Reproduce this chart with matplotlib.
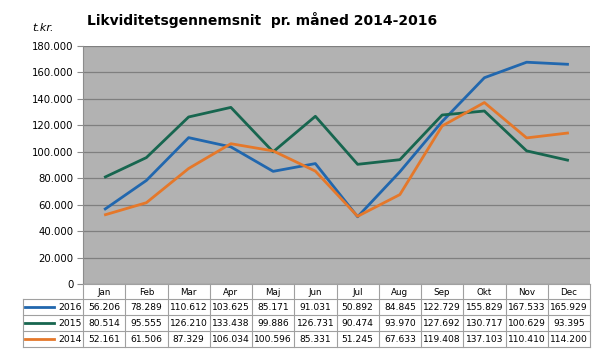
import matplotlib.pyplot as plt
from matplotlib.lines import Line2D
import numpy as np

# data (t.kr.)
months = ['Jan', 'Feb', 'Mar', 'Apr', 'Maj', 'Jun', 'Jul', 'Aug', 'Sep', 'Okt', 'Nov', 'Dec']
years = ['2016', '2015', '2014']
v2016 = [56.206, 78.289, 110.612, 103.625, 85.171, 91.031, 50.892, 84.845, 122.729, 155.829, 167.533, 165.929]
v2015 = [80.514, 95.555, 126.210, 133.438, 99.886, 126.731, 90.474, 93.970, 127.692, 130.717, 100.629, 93.395]
v2014 = [52.161, 61.506, 87.329, 106.034, 100.596, 85.331, 51.245, 67.633, 119.408, 137.103, 110.410, 114.200]
series = [v2016, v2015, v2014]
colors = ['#2167AE', '#17664F', '#E5782A']

W, H = 605, 354
fig = plt.figure(figsize=(W / 100, H / 100), dpi=100)

# plot area in pixels
left, right, top, bottom = 83, 590, 45.7, 284.2
ax = fig.add_axes([left / W, 1 - bottom / H, (right - left) / W, (bottom - top) / H])
ax.set_facecolor('#B2B2B2')
x = np.arange(len(months)) + 0.5
for vals, c in zip(series, colors):
    ax.plot(x, vals, color=c, linewidth=2.0, solid_capstyle='butt')
ax.set_xlim(0, len(months))
ax.set_ylim(0, 180)
ax.set_yticks(np.arange(0, 181, 20))
ax.set_yticklabels(['0' if t == 0 else f'{t}.000' for t in range(0, 181, 20)], fontsize=7.3)
ax.yaxis.grid(True, color='#7F7F7F', linewidth=0.9)
ax.set_axisbelow(True)
ax.set_xticks([])
for s in ['top', 'right', 'bottom']:
    ax.spines[s].set_visible(False)
ax.spines['left'].set_color('#8C8C8C')
ax.tick_params(axis='y', length=4, color='#8C8C8C', pad=3)

fig.text(262 / W, 1 - 20 / H, 'Likviditetsgennemsnit  pr. måned 2014-2016',
         ha='center', va='center', fontsize=10, fontweight='bold')
fig.text(43 / W, 1 - 28 / H, 't.kr.', ha='center', va='center', fontsize=8, style='italic')

# data table below the chart
tab = fig.add_axes([0, 0, 1, 1], facecolor='none')
tab.set_xlim(0, W)
tab.set_ylim(H, 0)
tab.axis('off')
lc = '#A0A0A0'
tleft = 23
colw = (right - left) / len(months)
rows_y = [284.2, 299, 315, 331, 347]
# horizontal lines
tab.plot([left, right], [rows_y[0], rows_y[0]], color=lc, lw=0.8)
for yy in rows_y[1:]:
    tab.plot([tleft, right], [yy, yy], color=lc, lw=0.8)
# vertical lines
tab.plot([tleft, tleft], [rows_y[1], rows_y[-1]], color=lc, lw=0.8)
for i in range(len(months) + 1):
    xx = left + i * colw
    tab.plot([xx, xx], [rows_y[0], rows_y[-1]], color=lc, lw=0.8)
# header
for i, m in enumerate(months):
    tab.text(left + (i + 0.5) * colw, (rows_y[0] + rows_y[1]) / 2 + 0.5, m,
             ha='center', va='center', fontsize=6.3)
# rows
for r, (yr, vals, c) in enumerate(zip(years, series, colors)):
    yc = (rows_y[r + 1] + rows_y[r + 2]) / 2
    tab.add_line(Line2D([tleft + 2, tleft + 31], [yc, yc], color=c, lw=2.0))
    tab.text(left - 1.5, yc, yr, ha='right', va='center', fontsize=6.7)
    for i, v in enumerate(vals):
        tab.text(left + (i + 0.5) * colw, yc, f'{v:.3f}', ha='center', va='center', fontsize=6.6)

fig.savefig('out.png', dpi=100)
